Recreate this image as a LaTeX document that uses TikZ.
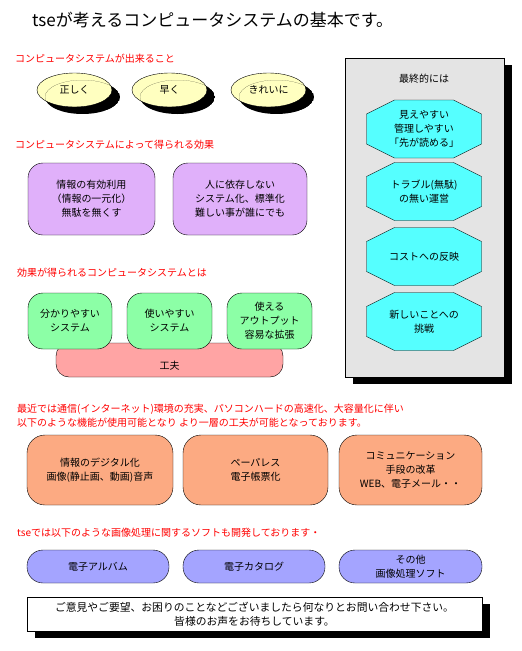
\documentclass[tikz,border=0pt]{standalone}
\usepackage{fontspec}
\setmainfont{Noto Sans CJK JP}
\usetikzlibrary{shapes.geometric,shadows,calc}
\definecolor{lemon}{HTML}{FFFFC0}
\definecolor{lilac}{HTML}{E0B0FA}
\definecolor{mint}{HTML}{8CFFA6}
\definecolor{salmon}{HTML}{FFA4A4}
\definecolor{apricot}{HTML}{FCAA82}
\definecolor{periwinkle}{HTML}{A4A4FF}
\definecolor{aqua}{HTML}{55FFFF}
\definecolor{panelgrey}{HTML}{E4E4E4}

\begin{document}
\begin{tikzpicture}[x=1pt, y=-1pt, font=\fontsize{10}{14}\selectfont,
  shadowed/.style={drop shadow={shadow xshift=8pt, shadow yshift=-7pt, opacity=1, fill=black}},
  heading/.style={anchor=west, text=red, inner sep=0pt},
  wish/.style={ellipse, draw, fill=lemon, minimum width=75pt, minimum height=34pt, inner sep=0pt},
  box/.style={draw, rounded corners=15pt, align=center, inner sep=0pt},
  goal/.style={draw, fill=aqua}]
  \useasboundingbox[fill=white] (0,0) rectangle (522,651);
  % title
  \node[anchor=west, inner sep=0pt, font=\fontsize{17}{20}\selectfont] (title) at (32,20) {tseが考えるコンピュータシステムの基本です。};
  % what the system can do
  \node[heading] (head1) at (15,59) {コンピュータシステムが出来ること};
  \foreach \n/\px/\txt in {1/74.5/正しく, 2/169.5/早く, 3/268.5/きれいに} {
    \node[wish] (wish\n) at (\px,90) {\txt};
    % shadow crescent on top: shadow ellipse minus the node
    \begin{scope}
      \clip (\px+8,97) ellipse [x radius=37.5, y radius=17];
      \fill[black, even odd rule] (\px+8,97) ellipse [x radius=37.5, y radius=17]
        (\px,90) ellipse [x radius=37.5, y radius=17];
    \end{scope}
  }
  % effects
  \node[heading] (head2) at (15,145) {コンピュータシステムによって得られる効果};
  \node[box, fill=lilac, minimum width=127pt, minimum height=72pt] (effect1) at (91.5,199) {情報の有効利用\\（情報の一元化）\\無駄を無くす};
  \node[box, fill=lilac, minimum width=134pt, minimum height=72pt] (effect2) at (240,199) {人に依存しない\\システム化、標準化\\難しい事が誰にでも};
  % systems that give the effects, on top of kufu
  \node[heading] (head3) at (17,273) {効果が得られるコンピュータシステムとは};
  \node[box, rounded corners=13pt, fill=salmon, minimum width=227pt, minimum height=34pt] (kufu) at (169.5,360) {};
  \node (kufulbl) at (169.5,366) {工夫};
  \node[box, fill=mint, minimum width=84pt, minimum height=56pt] (sys1) at (70,321) {分かりやすい\\システム};
  \node[box, fill=mint, minimum width=85pt, minimum height=56pt] (sys2) at (169.5,321) {使いやすい\\システム};
  \node[box, fill=mint, minimum width=85pt, minimum height=56pt] (sys3) at (269.5,321) {使える\\アウトプット\\容易な拡張};
  % final goals panel
  \node[draw, fill=panelgrey, minimum width=159pt, minimum height=319pt, shadowed] (panel) at (424.5,217.5) {};
  \node (paneltitle) at (424,79) {最終的には};
  \foreach \n/\y/\txt in {1/129/{見えやすい\\管理しやすい\\「先が読める」}, 2/191.5/{トラブル(無駄)\\の無い運営},
                          3/256.5/{コストへの反映}, 4/321.5/{新しいことへの\\挑戦}} {
    \coordinate (c\n) at (424,\y);
    \filldraw[goal] ($(c\n)+(-29.5,-29)$) -- ++(59,0) -- ++(28,14) -- ++(0,30) -- ++(-28,14)
      -- ++(-59,0) -- ++(-28,-14) -- ++(0,-30) -- cycle;
    \node[align=center] (goal\n) at (c\n) {\txt};
  }
  % recent functions
  \node[heading, align=left] (head4) at (17,415.5) {最近では通信(インターネット)環境の充実、パソコンハードの高速化、大容量化に伴い\\以下のような機能が使用可能となり より一層の工夫が可能となっております。};
  \node[box, rounded corners=18pt, fill=apricot, minimum width=146pt, minimum height=70pt] (func1) at (100,470) {情報のデジタル化\\画像(静止画、動画)音声};
  \node[box, rounded corners=18pt, fill=apricot, minimum width=145pt, minimum height=70pt] (func2) at (255.5,470) {ペーパレス\\電子帳票化};
  \node[box, rounded corners=18pt, fill=apricot, minimum width=143pt, minimum height=70pt] (func3) at (410.5,470) {コミュニケーション\\手段の改革\\WEB、電子メール・・};
  % image software
  \node[heading] (head5) at (17,533) {tseでは以下のような画像処理に関するソフトも開発しております・};
  \node[box, rounded corners=16pt, fill=periwinkle, minimum width=142pt, minimum height=33pt] (soft1) at (98,566.5) {電子アルバム};
  \node[box, rounded corners=16pt, fill=periwinkle, minimum width=142pt, minimum height=33pt] (soft2) at (254,566.5) {電子カタログ};
  \node[box, rounded corners=16pt, fill=periwinkle, minimum width=143pt, minimum height=33pt] (soft3) at (410.5,566.5) {その他\\画像処理ソフト};
  % contact
  \node[draw, fill=white, minimum width=455pt, minimum height=34pt, inner sep=0pt, align=center,
        font=\fontsize{10.8}{14}\selectfont, shadowed] (contact) at (254.5,614)
       {ご意見やご要望、お困りのことなどございましたら何なりとお問い合わせ下さい。\\皆様のお声をお待ちしています。};
\end{tikzpicture}
\end{document}
